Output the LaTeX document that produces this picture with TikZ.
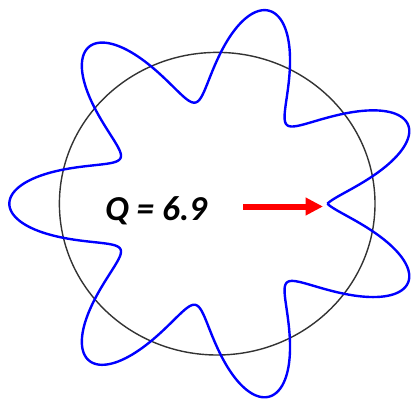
\documentclass[tikz,border=0pt]{standalone}
\usepackage{fontspec}
\newfontfamily\labelfont{Carlito}
\usetikzlibrary{arrows.meta}
\tikzset{
  refcircle/.style={draw=black!80, line width=1.4pt},
  wave/.style={draw=blue, line width=2.4pt, line join=round},
  redarrow/.style={draw=red, line width=6pt, -{Triangle[length=17.5pt,width=17pt]}},
  qlabel/.style={inner sep=0pt, font=\labelfont\bfseries\itshape\fontsize{35}{40}\selectfont}
}
\begin{document}
\begin{tikzpicture}[x=1pt,y=-1pt]
\useasboundingbox (0,0) rectangle (413,399);
\fill[white] (0,0) rectangle (413,399);
\coordinate (c) at (217.2,203.7);
\draw[refcircle] (c) ellipse [x radius=157.8, y radius=151.3];
\draw[wave] plot[domain=0:360, samples=721, variable=\t]
  ({217.2 + 1.043*(151.3+48*cos(6.9*(\t-180)))*cos(\t)},
   {203.7 - (151.3+48*cos(6.9*(\t-180)))*sin(\t)});
\node[qlabel, anchor=base] (q) at (156,220) {Q = 6.9};
\coordinate (arrowstart) at (243.3,206.5);
\coordinate (arrowtip) at (323,206.5);
\draw[redarrow] (arrowstart) -- (arrowtip);
\end{tikzpicture}
\end{document}
